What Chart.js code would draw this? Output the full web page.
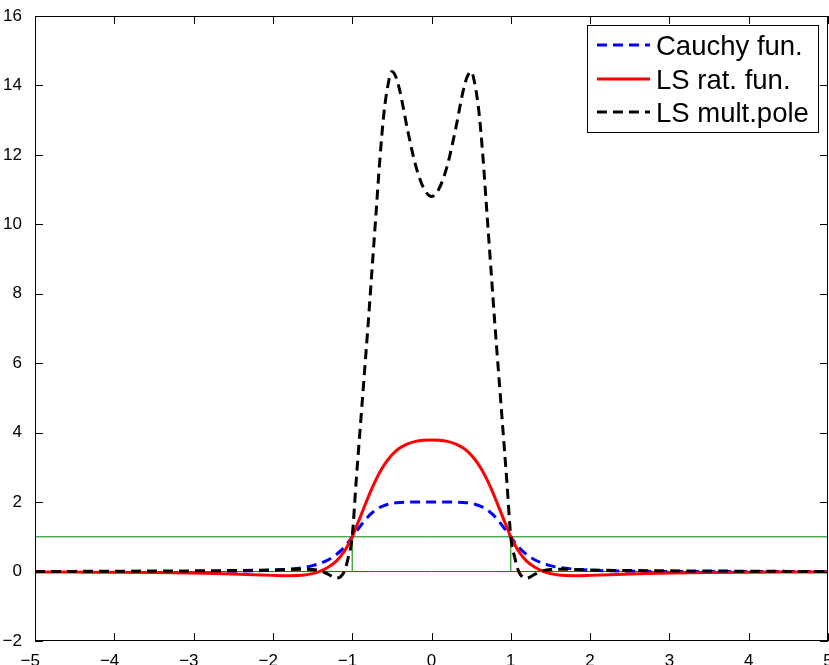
<!DOCTYPE html>
<html>
<head>
<meta charset="utf-8">
<title>Cauchy / LS approximations</title>
<script src="https://cdn.jsdelivr.net/npm/chart.js@4.4.1/dist/chart.umd.min.js"></script>
<style>
    html, body { margin: 0; padding: 0; background: #fff; }
    canvas { display: block; }
</style>
</head>
<body>
<canvas id="approxChart" width="829" height="665"></canvas>
<script>
// ----------------------------------------
// Data
// ----------------------------------------
const xValues = [
    -5, -4.5, -4, -3.5, -3, -2.5, -2, -1.8, -1.6, -1.5, -1.4, -1.3, -1.2, -1.1, -1.05,
    -1, -0.95, -0.9, -0.85, -0.8, -0.75, -0.7, -0.65, -0.6, -0.55, -0.5, -0.45, -0.4, -0.3, -0.2, -0.1,
    0,
    0.1, 0.2, 0.3, 0.4, 0.45, 0.5, 0.55, 0.6, 0.65, 0.7, 0.75, 0.8, 0.85, 0.9, 0.95, 1,
    1.05, 1.1, 1.2, 1.3, 1.4, 1.5, 1.6, 1.8, 2, 2.5, 3, 3.5, 4, 4.5, 5
];

const cauchyValues = [
    0, 0, 0.001, 0.002, 0.004, 0.01, 0.04, 0.07, 0.12, 0.17, 0.24, 0.34, 0.49, 0.7, 0.84,
    1.0, 1.15, 1.3, 1.45, 1.58, 1.69, 1.78, 1.85, 1.9, 1.94, 1.97, 1.98, 1.99, 2.0, 2.0, 2.0,
    2.0,
    2.0, 2.0, 2.0, 1.99, 1.98, 1.97, 1.94, 1.9, 1.85, 1.78, 1.69, 1.58, 1.45, 1.3, 1.15, 1.0,
    0.84, 0.7, 0.49, 0.34, 0.24, 0.17, 0.12, 0.07, 0.04, 0.01, 0.004, 0.002, 0.001, 0, 0
];

const lsRatValues = [
    -0.01, -0.015, -0.02, -0.03, -0.045, -0.07, -0.11, -0.12, -0.1, -0.06, 0.01, 0.13, 0.3, 0.58, 0.78,
    1.0, 1.28, 1.56, 1.85, 2.13, 2.4, 2.65, 2.87, 3.06, 3.22, 3.36, 3.47, 3.56, 3.68, 3.75, 3.78,
    3.79,
    3.78, 3.75, 3.68, 3.56, 3.47, 3.36, 3.22, 3.06, 2.87, 2.65, 2.4, 2.13, 1.85, 1.56, 1.28, 1.0,
    0.78, 0.58, 0.3, 0.13, 0.01, -0.06, -0.1, -0.12, -0.11, -0.07, -0.045, -0.03, -0.02, -0.015, -0.01
];

const multPoleValues = [
    0, 0.005, 0.01, 0.015, 0.02, 0.03, 0.045, 0.06, 0.065, 0.06, 0.02, -0.08, -0.19, 0.0, 0.4,
    1.0, 2.6, 4.1, 5.6, 7.1, 8.7, 10.3, 11.9, 13.2, 14.0, 14.4, 14.25, 13.85, 12.7, 11.7, 11.05,
    10.8,
    11.05, 11.7, 12.7, 13.85, 14.25, 14.4, 14.0, 13.2, 11.9, 10.3, 8.7, 7.1, 5.6, 4.1, 2.6, 1.0,
    0.4, 0.0, -0.19, -0.08, 0.02, 0.06, 0.065, 0.06, 0.045, 0.03, 0.02, 0.015, 0.01, 0.005, 0
];

// reference levels and the interval edges
const levelValues = [0, 1];
const edgeValues = [-1, 1];

const xRange = [-5, 5];
const yRange = [-2, 16];

const FONT = 'Liberation Sans, Arial, Helvetica, sans-serif';

// ----------------------------------------
// Helpers
// ----------------------------------------
function toPoints(xs, ys) {
    return xs.map((x, i) => ({ x: x, y: ys[i] }));
}

function minusLabel(v) {
    return v < 0 ? '\u2212' + Math.abs(v) : String(v);
}

function curve(label, values, color, dash, order) {
    return {
        label: label,
        data: toPoints(xValues, values),
        borderColor: color,
        borderWidth: 3,
        borderDash: dash,
        pointRadius: 0,
        cubicInterpolationMode: 'monotone',
        fill: false,
        order: order
    };
}

function guide(points) {
    return {
        data: points,
        borderColor: '#008000',
        borderWidth: 1,
        pointRadius: 0,
        fill: false,
        order: 10
    };
}

// ----------------------------------------
// Plugins: axes box with inward ticks, legend box
// ----------------------------------------
const framePlugin = {
    id: 'frame',
    afterDatasetsDraw(chart) {
        const { ctx, chartArea: a, scales } = chart;
        const tick = 8;
        ctx.save();
        ctx.strokeStyle = '#000';
        ctx.lineWidth = 1;
        ctx.beginPath();
        scales.x.ticks.forEach(t => {
            const px = Math.round(scales.x.getPixelForValue(t.value)) + 0.5;
            ctx.moveTo(px, a.bottom);
            ctx.lineTo(px, a.bottom - tick);
            ctx.moveTo(px, a.top);
            ctx.lineTo(px, a.top + tick);
        });
        scales.y.ticks.forEach(t => {
            const py = Math.round(scales.y.getPixelForValue(t.value)) + 0.5;
            ctx.moveTo(a.left, py);
            ctx.lineTo(a.left + tick, py);
            ctx.moveTo(a.right, py);
            ctx.lineTo(a.right - tick, py);
        });
        ctx.stroke();
        ctx.strokeRect(a.left + 0.5, a.top + 0.5, a.right - a.left - 1, a.bottom - a.top - 1);
        ctx.restore();
    }
};

const legendBoxPlugin = {
    id: 'legendBox',
    afterDraw(chart) {
        const ctx = chart.ctx;
        const items = chart.data.datasets
            .filter(ds => ds.label)
            .sort((p, q) => q.order - p.order);
        const box = { left: 587.5, top: 25.5, width: 231, height: 107 };
        const rowY = [45, 79, 112];

        ctx.save();
        ctx.fillStyle = '#fff';
        ctx.fillRect(box.left, box.top, box.width, box.height);
        ctx.strokeStyle = '#000';
        ctx.lineWidth = 1;
        ctx.strokeRect(box.left, box.top, box.width, box.height);

        ctx.font = '27.5px ' + FONT;
        ctx.textBaseline = 'alphabetic';
        items.forEach((ds, i) => {
            const y = rowY[i];
            ctx.strokeStyle = ds.borderColor;
            ctx.lineWidth = ds.borderWidth;
            ctx.setLineDash(ds.borderDash || []);
            ctx.beginPath();
            ctx.moveTo(597, y);
            ctx.lineTo(650, y);
            ctx.stroke();
            ctx.setLineDash([]);
            ctx.fillStyle = '#000';
            ctx.fillText(ds.label, 656, y + 10);
        });
        ctx.restore();
    }
};

// ----------------------------------------
// Chart
// ----------------------------------------
function initChart() {
    const ctx = document.getElementById('approxChart');

    // legend order is by descending 'order': Cauchy, LS rat., LS mult.
    const datasets = [
        curve('LS mult.pole', multPoleValues, '#000000', [10, 6], 1),
        curve('Cauchy fun.', cauchyValues, '#0000ff', [10, 6], 3),
        curve('LS rat. fun.', lsRatValues, '#ff0000', [], 2)
    ];

    levelValues.forEach(level => {
        datasets.push(guide([{ x: xRange[0], y: level }, { x: xRange[1], y: level }]));
    });
    edgeValues.forEach(edge => {
        datasets.push(guide([{ x: edge, y: levelValues[0] }, { x: edge, y: levelValues[1] }]));
    });

    new Chart(ctx, {
        type: 'line',
        data: { datasets: datasets },
        options: {
            responsive: false,
            animation: false,
            layout: { padding: { top: 16, right: 1, left: 0, bottom: 0 } },
            plugins: {
                legend: { display: false },
                tooltip: { enabled: false }
            },
            scales: {
                x: {
                    type: 'linear',
                    min: xRange[0],
                    max: xRange[1],
                    grid: { display: false },
                    border: { display: false },
                    ticks: {
                        stepSize: 1,
                        color: '#000',
                        padding: 2,
                        maxRotation: 0,
                        font: { family: FONT, size: 17 },
                        // pad negatives so the digit sits on the tick
                        callback: v => (v < 0 ? minusLabel(v) + '\u2007' : minusLabel(v))
                    },
                    afterFit: scale => {
                        scale.height = 24;
                        scale.paddingLeft = 0;
                        scale.paddingRight = 0;
                    }
                },
                y: {
                    type: 'linear',
                    min: yRange[0],
                    max: yRange[1],
                    grid: { display: false },
                    border: { display: false },
                    ticks: {
                        stepSize: 2,
                        color: '#000',
                        padding: 5,
                        font: { family: FONT, size: 17 },
                        callback: v => minusLabel(v)
                    },
                    afterFit: scale => {
                        scale.width = 35;
                        scale.paddingTop = 0;
                        scale.paddingBottom = 0;
                    }
                }
            }
        },
        plugins: [framePlugin, legendBoxPlugin]
    });
}

document.addEventListener('DOMContentLoaded', initChart);
</script>
</body>
</html>
